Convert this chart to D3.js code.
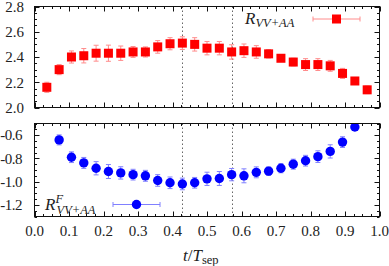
<!DOCTYPE html>
<html><head><meta charset="utf-8">
<script src="https://cdn.jsdelivr.net/npm/d3@7"></script>
<style>
body{margin:0;background:#fff;}
svg{display:block;}
text{font-family:"Liberation Serif","Times New Roman",serif;fill:#222;}
</style></head><body>
<svg id="c" width="389" height="266"></svg>
<script>
const T_SEP = 28;
const topN = d3.range(1, 28);
const topVal = [2.16,2.30,2.40,2.41,2.43,2.43,2.43,2.44,2.44,2.48,2.505,2.51,2.50,2.47,2.47,2.44,2.45,2.44,2.425,2.39,2.36,2.34,2.34,2.33,2.27,2.21,2.14];
const topErr = [0.04,0.04,0.048,0.057,0.063,0.064,0.057,0.043,0.04,0.05,0.048,0.05,0.053,0.053,0.053,0.057,0.053,0.05,0.033,0.025,0.03,0.047,0.047,0.043,0.04,0.027,0.03];
const botN = d3.range(2, 27);
const botVal = [-0.641,-0.79,-0.839,-0.885,-0.913,-0.925,-0.94,-0.95,-0.99,-1.01,-1.02,-1.01,-0.976,-0.973,-0.94,-0.95,-0.92,-0.91,-0.885,-0.85,-0.82,-0.785,-0.74,-0.66,-0.53];
const botErr = [0.043,0.046,0.047,0.057,0.06,0.053,0.046,0.047,0.05,0.05,0.05,0.046,0.057,0.06,0.053,0.06,0.047,0.036,0.039,0.043,0.046,0.05,0.057,0.046,0.03];
const xTicks = [0,0.1,0.2,0.3,0.4,0.5,0.6,0.7,0.8,0.9,1.0];
const topTicks = [2.0,2.2,2.4,2.6,2.8];
const botTicks = [-1.2,-1.0,-0.8,-0.6];
const vLines = [12/28, 16/28];

const svg = d3.select("#c");
const x = d3.scaleLinear().domain([0,1]).range([34.5,379.5]);
const yTop = d3.scaleLinear().domain([2.0,2.8]).range([107.5,6.5]);
const yBot = d3.scaleLinear().domain([-1.3,-0.5]).range([216.5,123.5]);

function panel(y, id, ticks, minorStep, showX, data, color, errColor, shape, labelEnd){
  const [x0,x1] = x.range(); const [yb,yt] = y.range();
  svg.append("clipPath").attr("id",id).append("rect").attr("x",x0).attr("y",yt).attr("width",x1-x0).attr("height",yb-yt);
  const g = svg.append("g");
  g.selectAll("line.v").data(vLines).join("line")
    .attr("x1",d=>Math.round(x(d))+0.5).attr("x2",d=>Math.round(x(d))+0.5).attr("y1",yt).attr("y2",yb)
    .attr("stroke","#666").attr("stroke-width",1).attr("stroke-dasharray","1.5,2.5");
  const xMinor = d3.range(0,1.0001,0.025);
  const [d0,d1] = y.domain();
  const yMinor = d3.range(d0,d1+1e-9,minorStep);
  const tg = g.append("g").attr("stroke","#111").attr("stroke-width",1);
  xMinor.forEach(v=>{
    const major = Math.abs(v*10-Math.round(v*10))<1e-6;
    const L = major?5:2.5; const px = Math.round(x(v))+0.5;
    tg.append("line").attr("x1",px).attr("x2",px).attr("y1",yb).attr("y2",yb-L);
    tg.append("line").attr("x1",px).attr("x2",px).attr("y1",yt).attr("y2",yt+L);
  });
  yMinor.forEach(v=>{
    const major = ticks.some(t=>Math.abs(t-v)<1e-6);
    const L = major?5:2.5; const py = Math.round(y(v))+0.5;
    tg.append("line").attr("y1",py).attr("y2",py).attr("x1",x0).attr("x2",x0+L);
    tg.append("line").attr("y1",py).attr("y2",py).attr("x1",x1).attr("x2",x1-L);
  });
  g.selectAll("text.yl").data(ticks).join("text")
    .attr("x",labelEnd).attr("y",d=>y(d)).attr("dy","0.35em").attr("text-anchor","end")
    .attr("font-size",15).attr("letter-spacing",d=>d<0?"-0.5px":null)
    .text(d=>d3.format(".1f")(d).replace("\u2212","-"));
  if(showX){
    g.selectAll("text.xl").data(xTicks).join("text")
      .attr("x",d=>x(d)).attr("y",yb+19).attr("text-anchor","middle")
      .attr("font-size",15).text(d=>d3.format(".1f")(d));
  }
  const dg = g.append("g").attr("clip-path",`url(#${id})`);
  const pts = data.n.map((n,i)=>({t:n/T_SEP, v:data.v[i], e:data.e[i]}));
  const eg = dg.append("g").attr("stroke",errColor).attr("stroke-width",1);
  pts.forEach(p=>{
    const px = x(p.t);
    eg.append("line").attr("x1",px).attr("x2",px).attr("y1",y(p.v-p.e)).attr("y2",y(p.v+p.e));
    eg.append("line").attr("x1",px-2.5).attr("x2",px+2.5).attr("y1",y(p.v-p.e)).attr("y2",y(p.v-p.e));
    eg.append("line").attr("x1",px-2.5).attr("x2",px+2.5).attr("y1",y(p.v+p.e)).attr("y2",y(p.v+p.e));
  });
  if(shape==="square"){
    dg.selectAll("rect.m").data(pts).join("rect")
      .attr("x",d=>x(d.t)-4.5).attr("y",d=>y(d.v)-4.5).attr("width",9).attr("height",9).attr("fill",color);
  } else {
    dg.selectAll("circle.m").data(pts).join("circle")
      .attr("cx",d=>x(d.t)).attr("cy",d=>y(d.v)).attr("r",4.7).attr("fill",color);
  }
  g.append("rect").attr("x",x0).attr("y",yt).attr("width",x1-x0).attr("height",yb-yt)
    .attr("fill","none").attr("stroke","#111").attr("stroke-width",1);
  return g;
}

panel(yTop,"clipTop",topTicks,0.05,false,{n:topN,v:topVal,e:topErr},"#ff0000","#ff8c8c","square",24);
panel(yBot,"clipBot",botTicks,0.05,true,{n:botN,v:botVal,e:botErr},"#0000ff","#8080ff","circle",22);

function legendKey(cx, cy, color, errColor, shape){
  const g = svg.append("g");
  g.append("line").attr("x1",cx-23.5).attr("x2",cx+23.5).attr("y1",cy).attr("y2",cy).attr("stroke",errColor);
  g.append("line").attr("x1",cx-23.5).attr("x2",cx-23.5).attr("y1",cy-2.5).attr("y2",cy+2.5).attr("stroke",errColor);
  g.append("line").attr("x1",cx+23.5).attr("x2",cx+23.5).attr("y1",cy-2.5).attr("y2",cy+2.5).attr("stroke",errColor);
  if(shape==="square") g.append("rect").attr("x",cx-4.5).attr("y",cy-4.5).attr("width",9).attr("height",9).attr("fill",color);
  else g.append("circle").attr("cx",cx).attr("cy",cy).attr("r",4.7).attr("fill",color);
}
const l1 = svg.append("text").attr("x",245).attr("y",24).attr("font-size",17).attr("font-style","italic").attr("fill","#333");
l1.append("tspan").text("R");
l1.append("tspan").attr("font-size",12.5).attr("dy",3).text("VV+AA");
legendKey(336.5,19,"#ff0000","#ff8c8c","square");

const l2 = svg.append("text").attr("x",45).attr("y",210).attr("font-size",17).attr("font-style","italic").attr("fill","#333");
l2.append("tspan").text("R");
l2.append("tspan").attr("font-size",12.5).attr("dy",-7).text("F");
l2.append("tspan").attr("font-size",12.5).attr("x",56.5).attr("dy",11).text("VV+AA");
legendKey(136.5,204.5,"#0000ff","#8080ff","circle");

const xl = svg.append("text").attr("x",183).attr("y",261).attr("font-size",17);
xl.append("tspan").attr("font-style","italic").text("t");
xl.append("tspan").text("/");
xl.append("tspan").attr("font-style","italic").text("T");
xl.append("tspan").attr("font-size",12.5).attr("dy",3).text("sep");
</script>
</body></html>
